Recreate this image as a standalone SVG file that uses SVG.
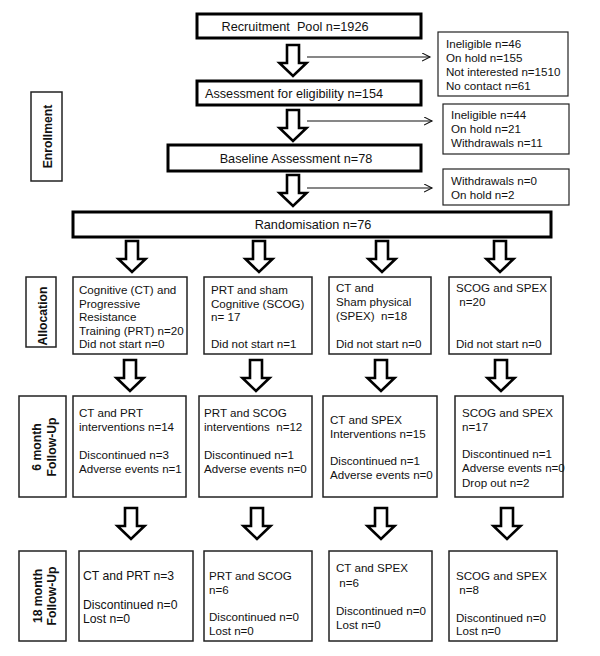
<svg xmlns="http://www.w3.org/2000/svg" width="600" height="656" viewBox="0 0 600 656">
<defs>
<style>
text{font-family:"Liberation Sans",Arial,sans-serif;font-size:11.6px;fill:#111;white-space:pre}
.big{font-size:12.7px}
.b12{font-size:12.2px}
.lab{font-weight:bold;font-size:12.2px}
.thick{fill:#fff;stroke:#000;stroke-width:3}
.mid{fill:#fff;stroke:#222;stroke-width:1.5}
.thin{fill:#fff;stroke:#222;stroke-width:1.2}
.blk{fill:#fff;stroke:#000;stroke-width:2.6;stroke-linejoin:miter}
.ln{fill:none;stroke:#111;stroke-width:1.1}
</style>
<path id="blockArrow" d="M-6,0 L6,0 L6,18 L13.5,18 L0,31 L-13.5,18 L-6,18 Z"/>
<marker id="open" markerWidth="10" markerHeight="10" refX="8" refY="4" orient="auto" markerUnits="userSpaceOnUse">
<path d="M0,0 L8,4 L0,8" fill="none" stroke="#111" stroke-width="1.1"/>
</marker>
</defs>
<rect width="600" height="656" fill="#fff"/>

<g id="connectors">
<use href="#blockArrow" class="blk" transform="translate(293,45)"/>
<use href="#blockArrow" class="blk" transform="translate(293,110)"/>
<use href="#blockArrow" class="blk" transform="translate(293,175)"/>
<line class="ln" x1="307" y1="57" x2="430" y2="57" marker-end="url(#open)"/>
<line class="ln" x1="307" y1="121" x2="432" y2="121" marker-end="url(#open)"/>
<line class="ln" x1="307" y1="188" x2="432" y2="188" marker-end="url(#open)"/>
<use href="#blockArrow" class="blk" transform="translate(132,241)"/>
<use href="#blockArrow" class="blk" transform="translate(259,241)"/>
<use href="#blockArrow" class="blk" transform="translate(382,241)"/>
<use href="#blockArrow" class="blk" transform="translate(500,241)"/>
<use href="#blockArrow" class="blk" transform="translate(130,360)"/>
<use href="#blockArrow" class="blk" transform="translate(256,360)"/>
<use href="#blockArrow" class="blk" transform="translate(381,360)"/>
<use href="#blockArrow" class="blk" transform="translate(501,360)"/>
<use href="#blockArrow" class="blk" transform="translate(131,508)"/>
<use href="#blockArrow" class="blk" transform="translate(257,508)"/>
<use href="#blockArrow" class="blk" transform="translate(381,508)"/>
<use href="#blockArrow" class="blk" transform="translate(507,508)"/>
</g>

<g id="recruitment">
<rect class="thick" x="197" y="14" width="224" height="24"/>
<text class="big" x="295" y="31" text-anchor="middle">Recruitment  Pool n=1926</text>
</g>
<g id="excluded1">
<rect class="thin" x="438" y="32" width="130" height="64"/>
<text x="446" y="48">Ineligible n=46</text>
<text x="446" y="62">On hold n=155</text>
<text x="446" y="76">Not interested n=1510</text>
<text x="446" y="90">No contact n=61</text>
</g>
<g id="assessment">
<rect class="thick" x="197" y="81" width="224" height="24"/>
<text class="big" x="294" y="98" text-anchor="middle">Assessment for eligibility n=154</text>
</g>
<g id="excluded2">
<rect class="thin" x="443" y="104" width="126" height="50"/>
<text x="451" y="119">Ineligible n=44</text>
<text x="451" y="133">On hold n=21</text>
<text x="451" y="147">Withdrawals n=11</text>
</g>
<g id="enrollment">
<rect class="mid" x="31" y="92" width="31" height="89"/>
<text class="lab" transform="translate(47,136.5) rotate(-90)" x="0" y="4.5" text-anchor="middle">Enrollment</text>
</g>
<g id="baseline">
<rect class="thick" x="168" y="145" width="253" height="26"/>
<text class="big" x="296" y="163" text-anchor="middle">Baseline Assessment n=78</text>
</g>
<g id="excluded3">
<rect class="thin" x="443" y="169" width="126" height="36"/>
<text x="451" y="185">Withdrawals n=0</text>
<text x="451" y="199">On hold n=2</text>
</g>
<g id="randomisation">
<rect class="thick" x="73" y="212" width="478" height="25"/>
<text class="big" x="313" y="229" text-anchor="middle">Randomisation n=76</text>
</g>

<g id="allocationLabel">
<rect class="mid" x="26" y="277" width="30" height="70"/>
<text class="lab" transform="translate(42,316) rotate(-90)" x="0" y="4.5" text-anchor="middle">Allocation</text>
</g>
<g id="alloc1">
<rect class="mid" x="73" y="277" width="114" height="77"/>
<text x="79" y="294">Cognitive (CT) and</text>
<text x="79" y="307.5">Progressive</text>
<text x="79" y="321">Resistance</text>
<text x="79" y="334.5">Training (PRT) n=20</text>
<text x="79" y="348">Did not start n=0</text>
</g>
<g id="alloc2">
<rect class="mid" x="204" y="277" width="108" height="77"/>
<text x="211" y="294">PRT and sham</text>
<text x="211" y="307.5">Cognitive (SCOG)</text>
<text x="211" y="321">n= 17</text>
<text x="211" y="348">Did not start n=1</text>
</g>
<g id="alloc3">
<rect class="mid" x="329" y="277" width="102" height="77"/>
<text x="336" y="292">CT and</text>
<text x="336" y="306">Sham physical</text>
<text x="336" y="320">(SPEX)  n=18</text>
<text x="336" y="348">Did not start n=0</text>
</g>
<g id="alloc4">
<rect class="mid" x="449" y="277" width="102" height="77"/>
<text x="456" y="292">SCOG and SPEX</text>
<text x="456" y="306"> n=20</text>
<text x="456" y="348">Did not start n=0</text>
</g>

<g id="followup6Label">
<rect class="mid" x="19" y="396" width="47" height="101"/>
<text class="lab" transform="translate(36,447) rotate(-90)" x="0" y="4.5" text-anchor="middle">6 month</text>
<text class="lab" transform="translate(51,447) rotate(-90)" x="0" y="4.5" text-anchor="middle">Follow-Up</text>
</g>
<g id="fu6_1">
<rect class="mid" x="73" y="396" width="113" height="101"/>
<text x="79" y="417">CT and PRT</text>
<text x="79" y="431">interventions n=14</text>
<text x="79" y="459">Discontinued n=3</text>
<text x="79" y="472.5">Adverse events n=1</text>
</g>
<g id="fu6_2">
<rect class="mid" x="199" y="396" width="113" height="101"/>
<text x="204" y="417">PRT and SCOG</text>
<text x="204" y="431">interventions  n=12</text>
<text x="204" y="459">Discontinued n=1</text>
<text x="204" y="472.5">Adverse events n=0</text>
</g>
<g id="fu6_3">
<rect class="mid" x="323" y="396" width="114" height="101"/>
<text x="330" y="424">CT and SPEX</text>
<text x="330" y="437.5">Interventions n=15</text>
<text x="330" y="465">Discontinued n=1</text>
<text x="330" y="479">Adverse events n=0</text>
</g>
<g id="fu6_4">
<rect class="mid" x="455" y="396" width="108" height="101"/>
<text x="462" y="417">SCOG and SPEX</text>
<text x="462" y="431">n=17</text>
<text x="462" y="458">Discontinued n=1</text>
<text x="462" y="472">Adverse events n=0</text>
<text x="462" y="487">Drop out n=2</text>
</g>

<g id="followup18Label">
<rect class="mid" x="19" y="551" width="47" height="90"/>
<text class="lab" transform="translate(37,596) rotate(-90)" x="0" y="4.5" text-anchor="middle">18 month</text>
<text class="lab" transform="translate(51,596) rotate(-90)" x="0" y="4.5" text-anchor="middle">Follow-Up</text>
</g>
<g id="fu18_1">
<rect class="mid" x="79" y="551" width="114" height="90"/>
<text class="b12" x="83" y="580">CT and PRT n=3</text>
<text class="b12" x="83" y="609">Discontinued n=0</text>
<text class="b12" x="83" y="622.5">Lost n=0</text>
</g>
<g id="fu18_2">
<rect class="mid" x="204" y="551" width="108" height="90"/>
<text x="209" y="580">PRT and SCOG</text>
<text x="209" y="594">n=6</text>
<text x="209" y="621">Discontinued n=0</text>
<text x="209" y="635">Lost n=0</text>
</g>
<g id="fu18_3">
<rect class="mid" x="329" y="551" width="103" height="90"/>
<text x="336" y="572">CT and SPEX</text>
<text x="336" y="587"> n=6</text>
<text x="336" y="615">Discontinued n=0</text>
<text x="336" y="628.5">Lost n=0</text>
</g>
<g id="fu18_4">
<rect class="mid" x="449" y="551" width="108" height="90"/>
<text x="456" y="580">SCOG and SPEX</text>
<text x="456" y="594"> n=8</text>
<text x="456" y="622">Discontinued n=0</text>
<text x="456" y="635">Lost n=0</text>
</g>
</svg>
